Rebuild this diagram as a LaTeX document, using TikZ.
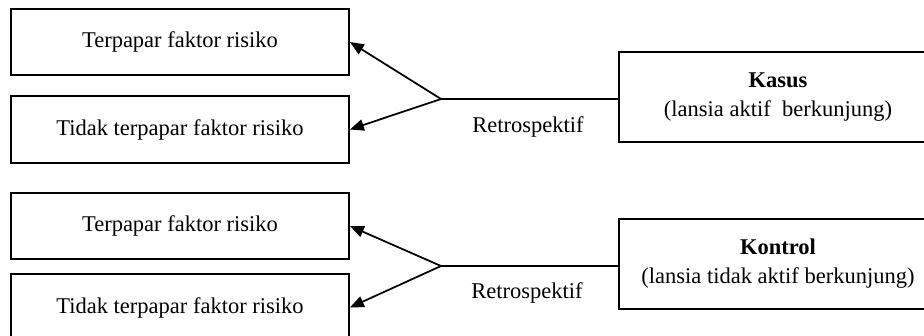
\documentclass[tikz,border=0pt]{standalone}
\usepackage{fontspec}
\setmainfont{Liberation Serif}
\usetikzlibrary{arrows.meta}
\usetikzlibrary{positioning}

\begin{document}
\begin{tikzpicture}[x=0.6pt, y=-0.6pt, line width=1.05pt,
    font=\fontsize{13.5pt}{17.4pt}\selectfont,
    kotak/.style={draw, minimum width=202.8pt, minimum height=39.8pt, inner sep=0pt},
    kelompok/.style={draw, align=center, minimum width=190.8pt, minimum height=54pt, inner sep=0pt},
    panah/.style={-{Triangle[length=8.4pt,width=6.8pt]}}]
            \useasboundingbox (0,0) rectangle (924,335);
            \clip (0,0) rectangle (924,335);
            % kelompok kasus
            \node [kotak] (ta) at (180,42) {Terpapar faktor risiko};
            \node [kotak] (tb) at (180,129.5) {Tidak terpapar faktor risiko};
            \node [kelompok] (kasus) at (778,97) {\textbf{Kasus}\\(lansia aktif~ berkunjung)};
            \coordinate (cabang1) at (441,99);
            \node (retro1) at (528,127) {Retrospektif};
            \draw (kasus.west |- cabang1) -- (cabang1);
            \draw [panah] (cabang1) -- (ta.east);
            \draw [panah] (cabang1) -- (tb.east);
            % kelompok kontrol
            \node [kotak] (tc) at (180,226) {Terpapar faktor risiko};
            \node [kotak] (td) at (180,307.5) {Tidak terpapar faktor risiko};
            \node [kelompok] (kontrol) at (778,264) {\textbf{Kontrol}\\(lansia tidak aktif berkunjung)};
            \coordinate (cabang2) at (441,266);
            \node (retro2) at (527,293) {Retrospektif};
            \draw (kontrol.west |- cabang2) -- (cabang2);
            \draw [panah] (cabang2) -- (tc.east);
            \draw [panah] (cabang2) -- (td.east);
        \end{tikzpicture}
\end{document}
